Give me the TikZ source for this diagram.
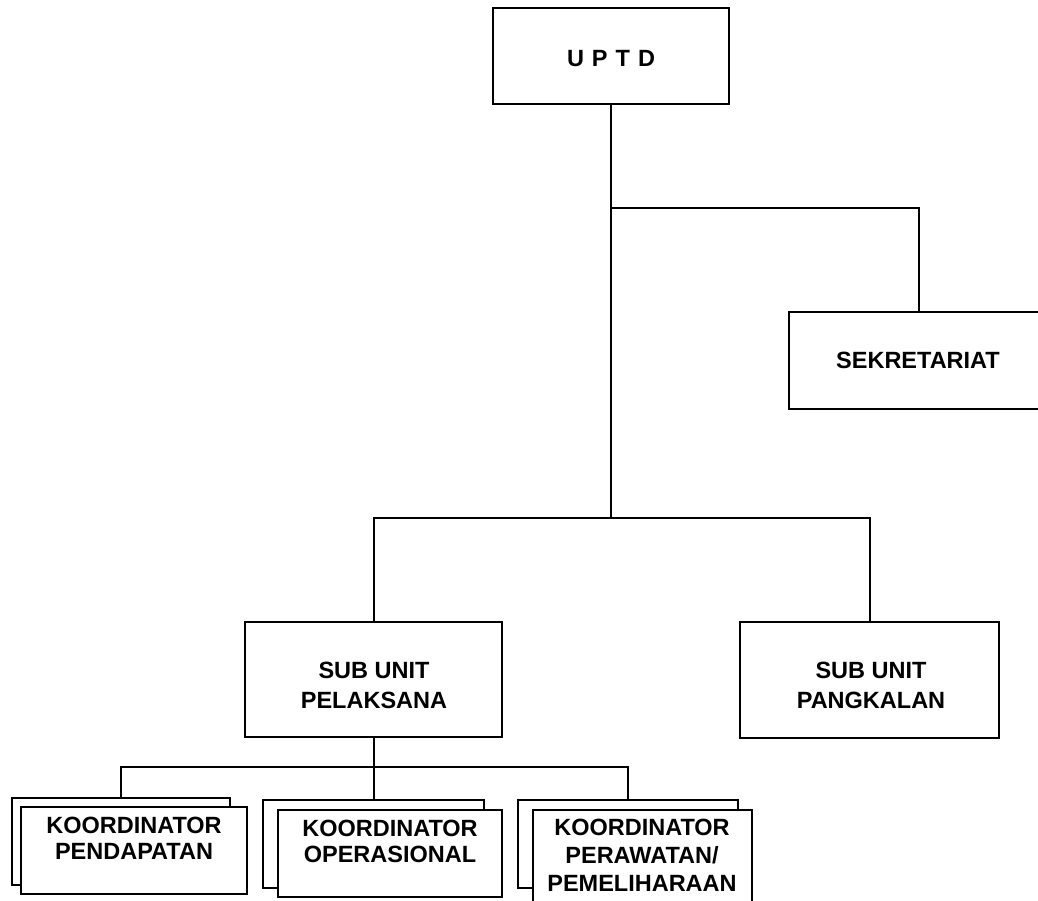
\documentclass[tikz,border=0pt]{standalone}
\usepackage{fontspec}
\setmainfont{Liberation Sans}
\begin{document}
\begin{tikzpicture}[x=1pt,y=-1pt,line width=2pt,
  box/.style={draw,fill=white,rectangle,inner sep=0pt},
  lbl/.style={font=\fontsize{23.5}{26}\selectfont\bfseries,align=center,inner sep=0pt}]
\useasboundingbox (0,0) rectangle (1038,900);
\clip (0,0) rectangle (1038,900);
% boxes
\node[box,minimum width=236pt,minimum height=96pt] (uptd) at (611,56) {};
\node[lbl] (uptdt) at (611,59) {U\hspace{8pt}P\hspace{8pt}T\hspace{8pt}D};
\node[box,minimum width=260pt,minimum height=97pt] (sek) at (919,360.5) {};
\node[lbl] (sekt) at (918,360) {SEKRETARIAT};
\node[box,minimum width=257pt,minimum height=115pt] (pel) at (373.5,679.5) {};
\node[lbl,font=\fontsize{23.5}{30}\selectfont\bfseries] (pelt) at (374,685) {SUB UNIT\\PELAKSANA};
\node[box,minimum width=259pt,minimum height=116pt] (pang) at (869.5,680) {};
\node[lbl,font=\fontsize{23.5}{30}\selectfont\bfseries] (pangt) at (871,685) {SUB UNIT\\PANGKALAN};
% koordinator boxes
\node[box,minimum width=218pt,minimum height=87pt] (k1b) at (121,841.5) {};
\node[box,minimum width=226pt,minimum height=87pt] (k1) at (134,850.5) {};
\node[lbl] (k1t) at (134,838) {KOORDINATOR\\PENDAPATAN};
\node[box,minimum width=221pt,minimum height=88pt] (k2b) at (373.5,844) {};
\node[box,minimum width=224pt,minimum height=87pt] (k2) at (390,853.5) {};
\node[lbl] (k2t) at (390,841) {KOORDINATOR\\OPERASIONAL};
\node[box,minimum width=220pt,minimum height=88pt] (k3b) at (628,844) {};
\node[box,minimum width=219pt,minimum height=110pt] (k3) at (642.5,865) {};
\node[lbl,font=\fontsize{23.5}{28}\selectfont\bfseries] (k3t) at (642,855) {KOORDINATOR\\PERAWATAN/\\PEMELIHARAAN};
% connectors
\coordinate (j1) at (611,208);
\coordinate (j2) at (611,518);
\coordinate (j3) at (373.5,767);
\draw (uptd.south) -- (j2);
\draw (j1) -| (sek.north);
\draw (pel.north) |- (j2) -| (pang.north);
\draw (pel.south) -- (j3);
\draw (k1b.north) |- (j3) -| (k3b.north);
\draw (j3) -- (k2b.north);
\end{tikzpicture}
\end{document}
